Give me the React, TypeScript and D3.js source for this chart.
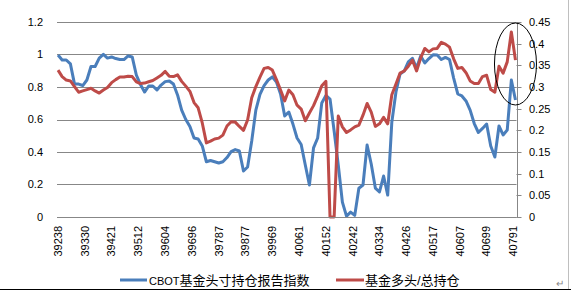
import React from "react";
import * as d3 from "d3";

// x-axis tick labels (Excel date serials), one every 13 weekly categories
const tickLabels = [
  "39238", "39330", "39421", "39512", "39604", "39696", "39787", "39877", "39969",
  "40061", "40152", "40242", "40334", "40426", "40517", "40607", "40699", "40791",
];
const categoryCount = 223;
const sampleStep = 2; // each value below is every 2nd weekly category
const labelStep = 13;

// CBOT 基金头寸持仓报告指数 (left axis)
const cbotIndex = [
  0.997, 0.966, 0.966, 0.942, 0.818, 0.818, 0.809, 0.843, 0.926, 0.926,
  0.978, 1.001, 0.978, 0.985, 0.975, 0.969, 0.969, 0.991, 0.985, 0.874,
  0.815, 0.769, 0.806, 0.806, 0.782, 0.812, 0.833, 0.837, 0.818, 0.751,
  0.658, 0.600, 0.557, 0.486, 0.480, 0.437, 0.340, 0.348, 0.340, 0.332,
  0.340, 0.366, 0.402, 0.415, 0.406, 0.283, 0.308, 0.468, 0.658, 0.754,
  0.809, 0.843, 0.862, 0.831, 0.757, 0.622, 0.646, 0.572, 0.486, 0.446,
  0.320, 0.197, 0.425, 0.486, 0.702, 0.748, 0.726, 0.529, 0.320, 0.092,
  0.005, 0.030, 0.010, 0.177, 0.197, 0.443, 0.326, 0.178, 0.154, 0.252,
  0.135, 0.585, 0.769, 0.880, 0.898, 0.954, 0.977, 0.917, 0.991, 0.948,
  0.975, 0.998, 0.997, 0.969, 0.982, 0.969, 0.855, 0.757, 0.745, 0.714,
  0.658, 0.575, 0.520, 0.545, 0.572, 0.437, 0.369, 0.560, 0.505, 0.535,
  0.843, 0.720,
];

// 基金多头/总持仓 (right axis)
const longRatio = [
  0.339, 0.324, 0.316, 0.314, 0.301, 0.288, 0.291, 0.294, 0.297, 0.291,
  0.286, 0.293, 0.299, 0.310, 0.317, 0.323, 0.323, 0.325, 0.324, 0.312,
  0.308, 0.309, 0.312, 0.315, 0.321, 0.327, 0.336, 0.325, 0.324, 0.328,
  0.313, 0.302, 0.290, 0.264, 0.252, 0.217, 0.171, 0.175, 0.180, 0.182,
  0.189, 0.210, 0.220, 0.219, 0.209, 0.200, 0.224, 0.275, 0.301, 0.323,
  0.343, 0.345, 0.339, 0.317, 0.293, 0.268, 0.293, 0.282, 0.258, 0.249,
  0.222, 0.240, 0.257, 0.279, 0.303, 0.313, 0.000, 0.000, 0.233, 0.208,
  0.195, 0.201, 0.208, 0.212, 0.235, 0.262, 0.242, 0.209, 0.215, 0.230,
  0.215, 0.282, 0.307, 0.332, 0.337, 0.348, 0.362, 0.337, 0.367, 0.389,
  0.381, 0.388, 0.389, 0.403, 0.399, 0.392, 0.365, 0.343, 0.345, 0.333,
  0.314, 0.308, 0.308, 0.324, 0.327, 0.294, 0.288, 0.348, 0.332, 0.358,
  0.427, 0.362,
];

const leftTicks = [0, 0.2, 0.4, 0.6, 0.8, 1, 1.2];
const rightTicks = [0, 0.05, 0.1, 0.15, 0.2, 0.25, 0.3, 0.35, 0.4, 0.45];
const seriesNames = ["CBOT基金头寸持仓报告指数", "基金多头/总持仓"];

const W = 571;
const H = 292;
const plot = { left: 57, right: 516.5, top: 22, bottom: 217 };
const BLUE = "#4A7EBB";
const RED = "#BE4B48";
const GRID = "#878787";
const FONT = "'Liberation Sans', Arial, sans-serif";
const CJK = "'Liberation Sans', 'Noto Sans CJK SC', sans-serif";

export default function App() {
  const x = d3.scaleLinear().domain([0, categoryCount]).range([plot.left, plot.right]);
  const yL = d3.scaleLinear().domain([0, 1.2]).range([plot.bottom, plot.top]);
  const yR = d3.scaleLinear().domain([0, 0.45]).range([plot.bottom, plot.top]);

  const catX = (i: number) => x(i + 0.5);

  const blueLine = d3
    .line<number>()
    .x((_, j) => catX(j * sampleStep))
    .y((v) => yL(v))
    .curve(d3.curveLinear)(cbotIndex);
  const redLine = d3
    .line<number>()
    .x((_, j) => catX(j * sampleStep))
    .y((v) => yR(v))
    .curve(d3.curveLinear)(longRatio);

  const lastX = catX((cbotIndex.length - 1) * sampleStep);

  return (
    <svg
      width={W}
      height={H}
      style={{ position: "absolute", left: 0, top: 0, background: "#fff" }}
    >
      <rect x={0} y={0} width={W} height={H} fill="#fff" />
      {/* gridlines */}
      {leftTicks.map((t) => (
        <line
          key={"g" + t}
          x1={plot.left}
          x2={plot.right}
          y1={Math.round(yL(t)) + 0.5}
          y2={Math.round(yL(t)) + 0.5}
          stroke={GRID}
          strokeWidth={1}
        />
      ))}
      {/* left tick labels */}
      {leftTicks.map((t) => (
        <text
          key={"l" + t}
          x={43}
          y={yL(t)}
          dy="0.35em"
          textAnchor="end"
          fontFamily={FONT}
          fontSize={11}
          fill="#000"
        >
          {d3.format("~g")(t)}
        </text>
      ))}
      {/* right axis */}
      <line
        x1={Math.round(plot.right) + 0.5}
        x2={Math.round(plot.right) + 0.5}
        y1={plot.top}
        y2={plot.bottom + 0.5}
        stroke={GRID}
      />
      {rightTicks.map((t) => (
        <g key={"r" + t}>
          <line
            x1={plot.right}
            x2={plot.right + 5}
            y1={Math.round(yR(t)) + 0.5}
            y2={Math.round(yR(t)) + 0.5}
            stroke={GRID}
          />
          <text
            x={529}
            y={yR(t)}
            dy="0.35em"
            textAnchor="start"
            fontFamily={FONT}
            fontSize={11}
            fill="#000"
          >
            {d3.format("~g")(t)}
          </text>
        </g>
      ))}
      {/* x labels */}
      {tickLabels.map((lab, k) => {
        const cx = catX(k * labelStep);
        return (
          <text
            key={lab}
            transform={`translate(${cx},226) rotate(-90)`}
            dy="0.35em"
            textAnchor="end"
            fontFamily={FONT}
            fontSize={11}
            fill="#000"
          >
            {lab}
          </text>
        );
      })}
      {/* series */}
      <path d={blueLine || ""} fill="none" stroke={BLUE} strokeWidth={3} strokeLinejoin="round" />
      <path d={redLine || ""} fill="none" stroke={RED} strokeWidth={3} strokeLinejoin="round" />
      {/* bottom axis line */}
      <line x1={plot.left} x2={plot.right} y1={plot.bottom + 0.5} y2={plot.bottom + 0.5} stroke={GRID} />
      {/* highlight ellipse */}
      <ellipse cx={lastX} cy={64} rx={21} ry={41} fill="none" stroke="#000" strokeWidth={1} />
      {/* legend */}
      <line x1={120} x2={147} y1={280} y2={280} stroke={BLUE} strokeWidth={3} />
      <text x={149} y={280} dy="0.36em" fontFamily={CJK} fontSize={13} fill="#000">
        <tspan fontSize={11}>{seriesNames[0].slice(0, 4)}</tspan>
        <tspan>{seriesNames[0].slice(4)}</tspan>
      </text>
      <line x1={336} x2={364} y1={280} y2={280} stroke={RED} strokeWidth={3} />
      <text x={365} y={280} dy="0.36em" fontFamily={CJK} fontSize={13} fill="#000">
        {seriesNames[1]}
      </text>
      {/* frame */}
      <line x1={568.5} x2={568.5} y1={0} y2={289} stroke="#bfbfbf" />
      <line x1={0} x2={W} y1={289.5} y2={289.5} stroke="#000" />
      <text x={556} y={287} fontFamily={FONT} fontSize={10} fill="#888">↵</text>
    </svg>
  );
}
